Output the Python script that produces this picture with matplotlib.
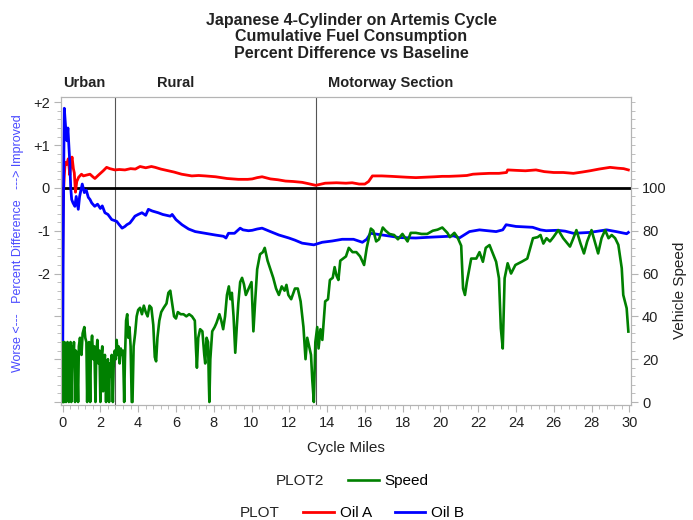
import matplotlib
matplotlib.use("Agg")
import matplotlib.pyplot as plt
from matplotlib.ticker import MultipleLocator, FixedLocator, FuncFormatter

plt.rcParams['font.family'] = ['Liberation Sans', 'DejaVu Sans']

# --- cumulative fuel consumption, % difference vs baseline ---
oil_a_miles = [0.0, 0.02, 0.05, 0.09, 0.14, 0.22, 0.3, 0.38, 0.45, 0.5, 0.57, 0.62, 0.68, 0.75, 0.85,
               1.0, 1.1, 1.27, 1.45, 1.6, 1.71, 1.9, 2.15, 2.33, 2.5, 2.77, 3.0, 3.3, 3.6, 3.85, 4.1,
               4.4, 4.7, 4.9, 5.2, 5.6, 5.9, 6.3, 6.84, 7.2, 7.55, 8.1, 8.7, 9.3, 9.8, 10.04, 10.3,
               10.56, 11.0, 11.4, 11.8, 12.2, 12.68, 13.0, 13.4, 13.9, 14.5, 15.0, 15.33, 15.7, 16.0,
               16.2, 16.4, 16.9, 17.4, 17.8, 18.2, 18.7, 19.2, 19.7, 20.1, 20.46, 21.0, 21.4, 21.72,
               22.1, 22.6, 23.1, 23.5, 23.56, 24.0, 24.5, 25.06, 25.5, 26.0, 26.5, 27.04, 27.5, 27.92,
               28.4, 28.98, 29.4, 29.7, 29.95]
oil_a_pct = [-1.8, -0.6, -0.1, 0.3, 0.6, 0.55, 0.68, 0.3, 0.6, 0.72, 0.45, 0.35, -0.1, 0.15, 0.25,
             0.32, 0.28, 0.3, 0.32, 0.26, 0.22, 0.3, 0.4, 0.48, 0.45, 0.42, 0.43, 0.42, 0.45, 0.44, 0.5,
             0.47, 0.5, 0.48, 0.44, 0.40, 0.37, 0.32, 0.28, 0.29, 0.28, 0.26, 0.22, 0.2, 0.2, 0.21, 0.24,
             0.26, 0.21, 0.19, 0.16, 0.15, 0.13, 0.1, 0.06, 0.11, 0.12, 0.11, 0.12, 0.09, 0.09,
             0.15, 0.28, 0.28, 0.27, 0.26, 0.25, 0.24, 0.25, 0.26, 0.27, 0.27, 0.28, 0.29, 0.32,
             0.33, 0.34, 0.34, 0.36, 0.42, 0.41, 0.40, 0.42, 0.38, 0.36, 0.36, 0.34, 0.37, 0.40,
             0.44, 0.48, 0.46, 0.45, 0.42]

oil_b_miles = [0.0, 0.03, 0.06, 0.09, 0.13, 0.18, 0.23, 0.28, 0.33, 0.38, 0.43, 0.48, 0.55, 0.65, 0.72,
               0.83, 0.9, 1.04, 1.15, 1.25, 1.36, 1.45, 1.54, 1.7, 1.85, 2.0, 2.1, 2.24, 2.4, 2.6, 2.86,
               3.0, 3.15, 3.3, 3.4, 3.56, 3.7, 3.83, 4.0, 4.2, 4.4, 4.54, 4.75, 5.06, 5.3, 5.7, 5.8, 6.0,
               6.32, 6.67, 7.02, 7.55, 8.08, 8.52, 8.65, 8.78, 9.1, 9.4, 9.55, 9.84, 10.04, 10.3, 10.56,
               11.0, 11.45, 11.98, 12.3, 12.68, 13.3, 13.74, 14.27, 14.8, 15.4, 15.87, 16.1, 16.3, 16.93,
               17.4, 17.81, 18.7, 19.5, 20.46, 20.7, 21.0, 21.54, 22.07, 22.5, 22.95, 23.3, 23.48, 24.0,
               24.88, 25.3, 25.6, 26.2, 26.6, 27.04, 27.9, 28.8, 29.3, 29.86, 29.95]
oil_b_pct = [-4.6, -1.5, 0.5, 1.86, 1.6, 1.3, 1.1, 1.4, 1.0, 0.6, 0.0, -0.27, -0.35, -0.43, -0.2,
             -0.5, -0.2, 0.09, -0.11, -0.05, -0.22, -0.27, -0.35, -0.43, -0.38, -0.48, -0.42, -0.58, -0.62, -0.74, -0.78,
             -0.86, -0.94, -0.9, -0.86, -0.82, -0.74, -0.66, -0.62, -0.58, -0.64, -0.5, -0.54, -0.58, -0.62, -0.66, -0.62, -0.74,
             -0.86, -0.96, -1.02, -1.06, -1.10, -1.13, -1.17, -1.06, -1.06, -0.94, -0.98, -1.0, -0.99, -0.96, -0.94,
             -1.02, -1.10, -1.17, -1.22, -1.29, -1.33, -1.27, -1.24, -1.2, -1.2, -1.27, -1.2, -1.06, -1.1,
             -1.13, -1.16, -1.17, -1.15, -1.13, -1.12, -1.17, -1.02, -0.98, -1.0, -1.02, -0.98, -0.86, -0.9,
             -0.92, -0.98, -1.0, -0.99, -1.01, -1.06, -1.04, -0.98, -1.02, -1.07, -1.04]

# --- vehicle speed trace ---
speed_miles = [0.0, 0.02, 0.06, 0.08, 0.1, 0.15, 0.18, 0.2, 0.26, 0.3, 0.33, 0.36, 0.42, 0.46, 0.5,
               0.56, 0.6, 0.66, 0.7, 0.76, 0.82, 0.86, 0.92, 1.0, 1.06, 1.15, 1.2, 1.26, 1.3, 1.34, 1.4,
               1.46, 1.5, 1.56, 1.62, 1.68, 1.74, 1.78, 1.84, 1.9, 1.95, 2.0, 2.04, 2.1, 2.14, 2.18, 2.24,
               2.3, 2.34, 2.4, 2.46, 2.5, 2.56, 2.6, 2.66, 2.7, 2.76, 2.82, 2.86, 2.92, 2.96, 3.02, 3.08,
               3.14, 3.2, 3.26, 3.3, 3.36, 3.42, 3.48, 3.54, 3.6, 3.66, 3.7, 3.76, 3.84, 3.92, 4.0, 4.1,
               4.2, 4.3, 4.4, 4.5, 4.6, 4.7, 4.8, 4.88, 4.95, 5.02, 5.12, 5.22, 5.35, 5.5, 5.6, 5.7, 5.8,
               5.9, 6.0, 6.1, 6.25, 6.4, 6.55, 6.7, 6.85, 7.0, 7.06, 7.11, 7.18, 7.28, 7.4, 7.5, 7.55,
               7.62, 7.7, 7.74, 7.77, 7.82, 7.92, 8.05, 8.15, 8.3, 8.4, 8.5, 8.6, 8.7, 8.8, 8.88, 8.96,
               9.05, 9.14, 9.22, 9.3, 9.4, 9.5, 9.6, 9.7, 9.8, 9.9, 10.0, 10.05, 10.1, 10.2, 10.3, 10.45,
               10.6, 10.7, 10.85, 11.0, 11.15, 11.3, 11.45, 11.6, 11.75, 11.85, 11.95, 12.1, 12.3, 12.45,
               12.6, 12.75, 12.86, 12.95, 13.05, 13.15, 13.22, 13.3, 13.38, 13.48, 13.55, 13.65, 13.75,
               13.9, 14.05, 14.15, 14.3, 14.4, 14.5, 14.6, 14.7, 14.85, 15.0, 15.15, 15.35, 15.55, 15.75,
               15.96, 16.1, 16.32, 16.45, 16.6, 16.75, 16.95, 17.1, 17.3, 17.55, 17.75, 17.99, 18.26,
               18.43, 18.7, 19.0, 19.3, 19.6, 19.85, 20.1, 20.37, 20.5, 20.74, 20.9, 21.1, 21.2, 21.3,
               21.4, 21.63, 21.9, 22.07, 22.25, 22.4, 22.6, 22.75, 22.95, 23.1, 23.2, 23.3, 23.4, 23.56,
               23.74, 23.97, 24.3, 24.6, 24.9, 25.15, 25.3, 25.45, 25.62, 25.8, 25.98, 26.24, 26.5,
               26.86, 27.04, 27.2, 27.41, 27.6, 27.77, 28.0, 28.17, 28.35, 28.53, 28.72, 28.9, 29.07,
               29.25, 29.42, 29.6, 29.68, 29.86, 29.95]
speed_mph = [0, 28, 22, 0, 28, 24, 0, 26, 28, 20, 0, 25, 28, 0, 26,
             20, 28, 0, 24, 22, 0, 26, 30, 22, 32, 35, 30, 28, 0, 24, 28,
             0, 25, 31, 20, 26, 0, 22, 29, 18, 24, 0, 20, 26, 5, 18, 22,
             0, 15, 20, 0, 18, 12, 22, 0, 16, 24, 20, 29, 22, 26, 18, 25,
             22, 24, 0, 20, 38, 41, 30, 35, 26, 0, 0, 26, 32, 40, 43, 44,
             41, 45, 42, 40, 45, 44, 36, 21, 19, 30, 38, 42, 44, 46, 51, 52, 46,
             40, 39, 42, 41, 41, 40, 41, 40, 38, 25, 16, 30, 34, 33, 22, 18,
             30, 28, 10, 0, 20, 33, 35, 37, 41, 38, 34, 40, 50, 54, 48, 51,
             40, 23, 35, 46, 56, 58, 55, 50, 52, 54, 56, 45, 33, 48, 62, 69,
             70, 72, 66, 62, 58, 53, 50, 54, 52, 54.7, 50, 48, 53, 53,
             47, 35, 20, 30, 26, 22, 10, 0, 28, 35, 25, 34, 29,
             47, 48, 57, 58, 63, 59, 57, 66, 67, 68, 72, 70, 70, 68,
             64, 72, 81, 80, 75, 76, 81.5, 80, 78.5, 78, 76, 78.5, 75,
             79, 79, 78.5, 78.5, 80, 80.5, 81.5, 79, 77, 79, 77, 73, 53, 50,
             56, 67, 67, 70, 65.5, 72, 73.3, 70, 65.5, 57.8, 34.4, 25, 57.8, 64.8,
             60, 64, 65.5, 67, 76.5, 77, 78, 74, 76.5, 75, 77, 80.3, 76.5,
             72.6, 76.5, 80.3, 74.2, 69.4, 75, 80.3, 75, 69.4, 76.5, 80.3, 76.5, 78,
             76.5, 73.4, 62.5, 50, 43.8, 32.9]

section_names = ["Urban", "Rural", "Motorway Section"]
section_label_miles = [0.04, 5.0, 14.06]
section_breaks = [2.8, 13.4]

ink = "#222222"
frame = "#b4b4b4"

fig = plt.figure(figsize=(6.93, 5.2), dpi=100)
ax = fig.add_axes([61 / 693, 1 - 405 / 520, 570 / 693, 308.3 / 520])

ax.plot(oil_a_miles, oil_a_pct, color="#ff0000", lw=2.0, label="Oil A", zorder=3)
ax.plot(oil_b_miles, oil_b_pct, color="#0000ff", lw=2.0, label="Oil B", zorder=3)
ax.axhline(0, color="black", lw=2.0, zorder=2)
for m in section_breaks:
    ax.axvline(m, color="#555555", lw=0.8, zorder=1)

ax.set_xlim(-0.085, 30.09)
ax.set_ylim(-5.07, 2.13)
ax.xaxis.set_major_locator(MultipleLocator(2))
ax.xaxis.set_minor_locator(MultipleLocator(0.4))
ax.yaxis.set_major_locator(FixedLocator(range(-5, 3)))
ax.yaxis.set_minor_locator(MultipleLocator(0.2))
ax.yaxis.set_major_formatter(FuncFormatter(
    lambda v, p: ("+%d" % v if v > 0 else "%d" % v) if v >= -2 else ""))

ax2 = ax.twinx()
ax2.plot(speed_miles, speed_mph, color="#008000", lw=1.9, label="Speed")
ax2.set_ylim(-1.4, 142.6)
ax2.yaxis.set_major_locator(FixedLocator(range(0, 101, 20)))
ax2.yaxis.set_minor_locator(MultipleLocator(4))

for a in (ax, ax2):
    for s in a.spines.values():
        s.set_color(frame)
    a.tick_params(which="major", length=5, color=frame, labelsize=10.5, labelcolor=ink, pad=3)
    a.tick_params(which="minor", length=3, color=frame)

ax.set_xlabel("Cycle Miles", fontsize=11, color=ink, labelpad=8)
fig.text(680 / 693, 1 - 290 / 520, "Vehicle Speed", rotation=90, fontsize=11,
         color=ink, ha="center", va="center")
fig.text(18 / 693, 1 - 243 / 520, "Worse <---   Percent Difference   ---> Improved",
         rotation=90, fontsize=9, color="#4a4aff", ha="center", va="center")

for name, m in zip(section_names, section_label_miles):
    ax.text(m, 1.045, name, transform=ax.get_xaxis_transform(), fontsize=10.5,
            fontweight="bold", color=ink, ha="left", va="center")

titles = ["Japanese 4-Cylinder on Artemis Cycle", "Cumulative Fuel Consumption",
          "Percent Difference vs Baseline"]
for i, t in enumerate(titles):
    fig.text(351 / 693, 1 - (20 + 17 * i) / 520, t, fontsize=11.5, fontweight="bold",
             color=ink, ha="center", va="center")

# legends, one row per axis
fig.text(276 / 693, 1 - 481 / 520, "PLOT2", fontsize=11, color=ink, ha="left", va="center")
fig.legend(handles=ax2.get_lines(), loc="center left", bbox_to_anchor=(348 / 693, 1 - 481 / 520),
           frameon=False, fontsize=11, handlelength=2.0, handletextpad=0.4,
           borderpad=0, borderaxespad=0)
fig.text(240 / 693, 1 - 513 / 520, "PLOT", fontsize=11, color=ink, ha="left", va="center")
fig.legend(handles=ax.get_lines()[:2], loc="center left", bbox_to_anchor=(303 / 693, 1 - 513 / 520),
           frameon=False, fontsize=11, ncol=2, handlelength=2.0, handletextpad=0.4,
           columnspacing=1.5, borderpad=0, borderaxespad=0)

fig.savefig("out.png", dpi=100)
